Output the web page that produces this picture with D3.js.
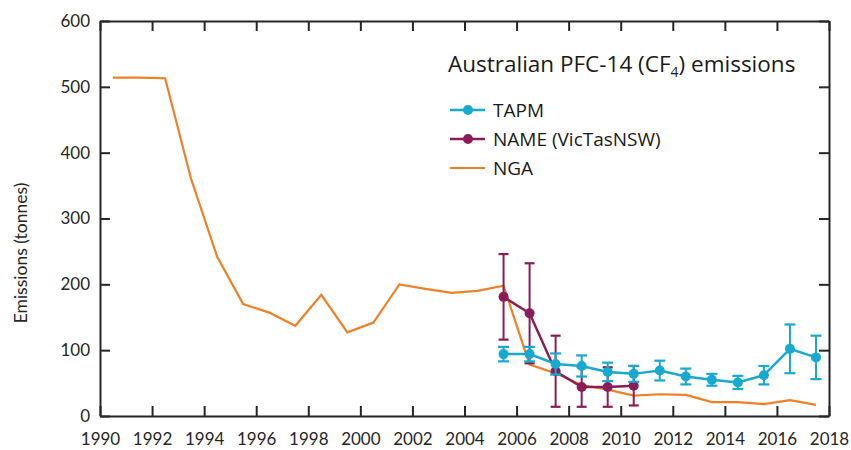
<!DOCTYPE html>
<html>
<head>
<meta charset="utf-8">
<script src="https://cdn.jsdelivr.net/npm/d3@7"></script>
<style>
  body { margin: 0; background: #fff; }
  svg { font-family: Lato, "Open Sans", sans-serif; }
  .axis text { font-size: 17px; fill: #262626; font-family: Lato, sans-serif; }
  .axis line, .axis path { stroke: #262626; stroke-width: 2px; }
  .label { font-family: "Open Sans", Lato, sans-serif; fill: #1a1a1a; }
</style>
</head>
<body>
<svg id="chart" width="851" height="450"></svg>
<script>
// NGA inventory, one value per year (plotted at mid-year)
const ngaYears = [1990, 1991, 1992, 1993, 1994, 1995, 1996, 1997, 1998, 1999, 2000, 2001, 2002, 2003,
                  2004, 2005, 2006, 2007, 2008, 2009, 2010, 2011, 2012, 2013, 2014, 2015, 2016, 2017];
const ngaValues = [514, 514, 513, 360, 242, 170, 157, 137, 184, 127, 142, 200, 193, 187,
                   190, 198, 78, 65, 47, 40, 31, 33, 32, 21, 21, 18, 24, 17];

// TAPM inversion
const tapmYears = [2005, 2006, 2007, 2008, 2009, 2010, 2011, 2012, 2013, 2014, 2015, 2016, 2017];
const tapmValues = [94, 94, 79, 76, 67, 64, 69, 60, 55, 51, 62, 102, 89];
const tapmErr = [11, 11, 16, 16, 14, 12, 15, 12, 9, 10, 14, 37, 33];

// NAME (VicTasNSW) inversion
const nameYears = [2005, 2006, 2007, 2008, 2009, 2010];
const nameValues = [181, 156, 68, 44, 44, 46];
const nameErr = [65, 76, 54, 30, 30, 30];

const xTicks = d3.range(1990, 2019, 2);
const yTicks = [0, 100, 200, 300, 400, 500, 600];

const colors = { tapm: "#17a9cf", name: "#8a1c58", nga: "#f07f26" };

const width = 851;
const height = 450;
const margin = { left: 100, right: 22, top: 21, bottom: 34 };

const svg = d3.select("#chart");

const x = d3.scaleLinear().domain([1990, 2018]).range([margin.left, width - margin.right]);
const y = d3.scaleLinear().domain([0, 600]).range([height - margin.bottom, margin.top]);

// Axes with inward ticks on all four sides
svg.append("g")
    .attr("class", "axis")
    .attr("transform", `translate(0,${height - margin.bottom})`)
    .call(d3.axisBottom(x).tickValues(xTicks).tickFormat(d3.format("d"))
        .tickSize(-10).tickSizeOuter(0).tickPadding(17));

svg.append("g")
    .attr("class", "axis")
    .attr("transform", `translate(0,${margin.top})`)
    .call(d3.axisTop(x).tickValues(xTicks).tickFormat("").tickSize(-10).tickSizeOuter(0));

svg.append("g")
    .attr("class", "axis")
    .attr("transform", `translate(${margin.left},0)`)
    .call(d3.axisLeft(y).tickValues(yTicks).tickSize(-10).tickSizeOuter(0).tickPadding(10));

svg.append("g")
    .attr("class", "axis")
    .attr("transform", `translate(${width - margin.right},0)`)
    .call(d3.axisRight(y).tickValues(yTicks).tickFormat("").tickSize(-10).tickSizeOuter(0));

// y axis title
svg.append("text")
    .attr("transform", "translate(27,253) rotate(-90)")
    .attr("text-anchor", "middle")
    .style("font-size", "17.5px")
    .style("fill", "#262626")
    .text("Emissions (tonnes)");

const line = d3.line()
    .x(d => x(d[0] + 0.5))
    .y(d => y(d[1]));

// NGA
svg.append("path")
    .datum(ngaYears.map((yr, i) => [yr, ngaValues[i]]))
    .attr("fill", "none")
    .attr("stroke", colors.nga)
    .attr("stroke-width", 2.2)
    .attr("d", line);

const drawSeries = (years, values, errs, color, cap) => {
    const pts = years.map((yr, i) => ({ yr: yr, v: values[i], e: errs[i] }));
    const g = svg.append("g");
    g.append("path")
        .datum(pts.map(p => [p.yr, p.v]))
        .attr("fill", "none")
        .attr("stroke", color)
        .attr("stroke-width", 2.5)
        .attr("d", line);
    const bars = g.selectAll(".bar")
        .data(pts)
        .enter()
        .append("g");
    bars.append("line")
        .attr("x1", p => x(p.yr + 0.5))
        .attr("x2", p => x(p.yr + 0.5))
        .attr("y1", p => y(Math.max(p.v - p.e, 0)))
        .attr("y2", p => y(p.v + p.e))
        .attr("stroke", color)
        .attr("stroke-width", 2);
    [-1, 1].forEach(s => {
        bars.append("line")
            .attr("x1", p => x(p.yr + 0.5) - cap)
            .attr("x2", p => x(p.yr + 0.5) + cap)
            .attr("y1", p => y(p.v + s * p.e))
            .attr("y2", p => y(p.v + s * p.e))
            .attr("stroke", color)
            .attr("stroke-width", 2.2);
    });
    bars.append("circle")
        .attr("cx", p => x(p.yr + 0.5))
        .attr("cy", p => y(p.v))
        .attr("r", 5)
        .attr("fill", color);
};

drawSeries(nameYears, nameValues, nameErr, colors.name, 5);
drawSeries(tapmYears, tapmValues, tapmErr, colors.tapm, 5.5);

// Title
const title = svg.append("text")
    .attr("class", "label")
    .attr("x", 448)
    .attr("y", 72)
    .style("font-size", "22.5px");
title.append("tspan").text("Australian PFC-14 (CF");
title.append("tspan").attr("dy", 5).style("font-size", "14px").text("4");
title.append("tspan").attr("dy", -5).text(") emissions");

// Legend
const legendData = [
    { label: "TAPM", color: colors.tapm, marker: true },
    { label: "NAME (VicTasNSW)", color: colors.name, marker: true },
    { label: "NGA", color: colors.nga, marker: false }
];

const legendItems = svg.selectAll(".legend")
    .data(legendData)
    .enter()
    .append("g")
    .attr("transform", (d, i) => `translate(450,${110 + i * 29})`);

legendItems.append("line")
    .attr("x1", 0).attr("x2", 35)
    .attr("stroke", d => d.color)
    .attr("stroke-width", d => d.marker ? 2.5 : 2.2);

legendItems.filter(d => d.marker)
    .append("circle")
    .attr("cx", 18)
    .attr("r", 5)
    .attr("fill", d => d.color);

legendItems.append("text")
    .attr("class", "label")
    .attr("x", 43)
    .attr("y", 6.5)
    .style("font-size", "19px")
    .text(d => d.label);
</script>
</body>
</html>
